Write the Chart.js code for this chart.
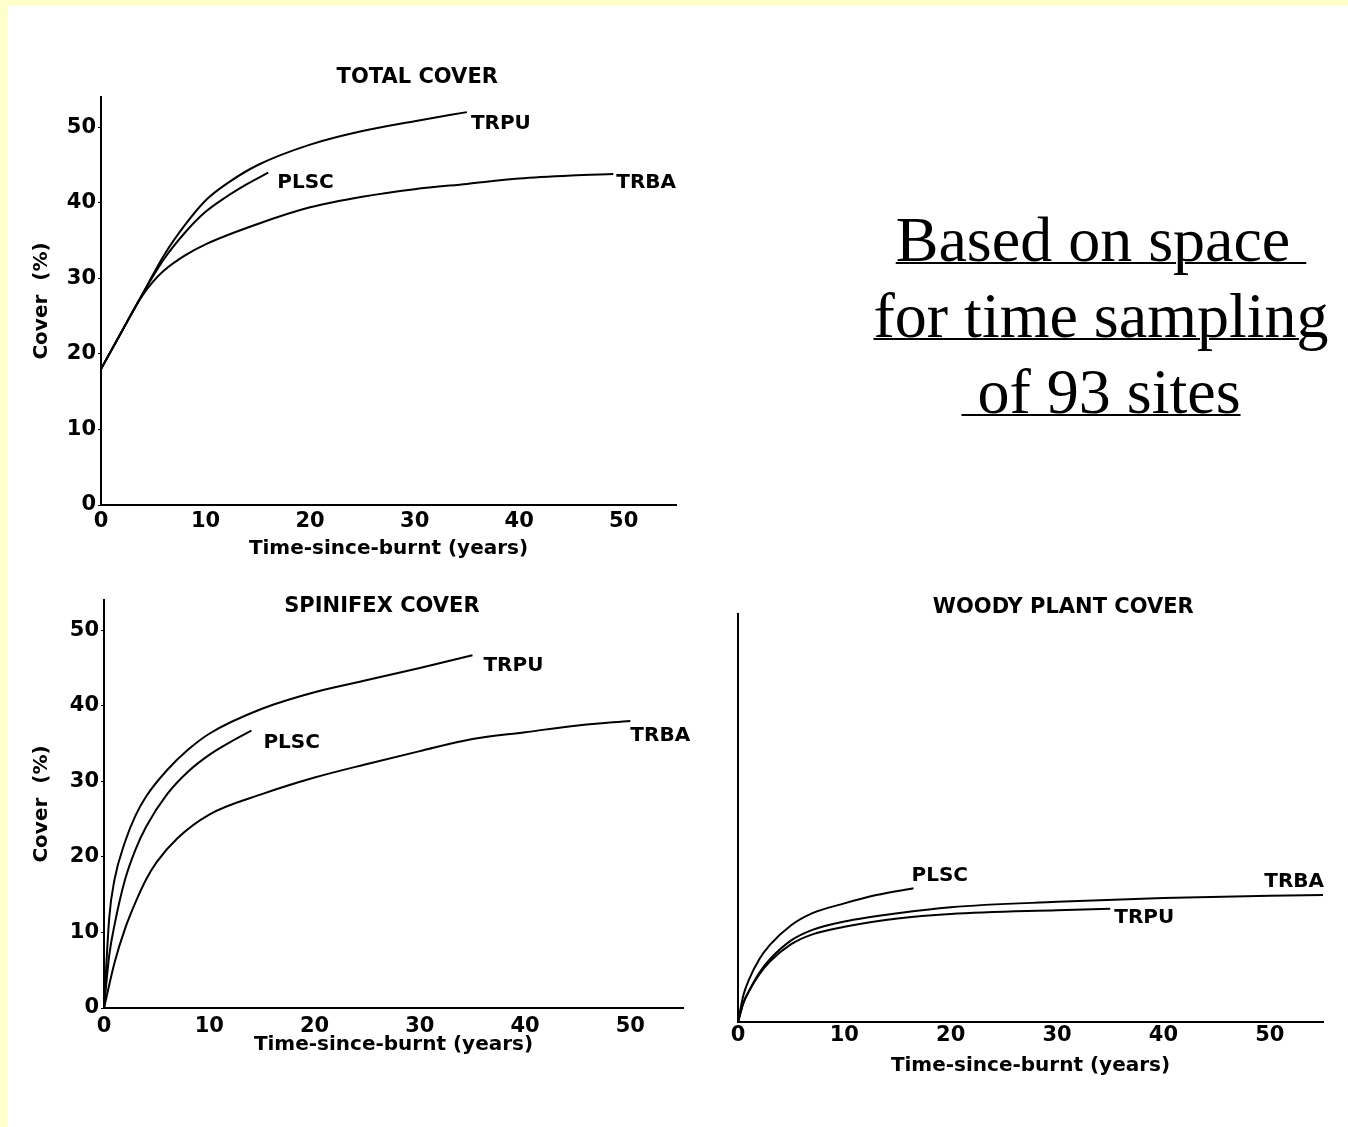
<!DOCTYPE html>
<html>
<head>
<meta charset="utf-8">
<script src="https://cdn.jsdelivr.net/npm/chart.js@4.4.1/dist/chart.umd.min.js"></script>
<style>
  body { margin: 0; background: #FFFFCC; width: 1348px; height: 1127px; overflow: hidden; }
  #page { position: absolute; left: 8px; top: 6px; width: 1340px; height: 1121px; background: #fff; }
  canvas { position: absolute; }
  #note {
    position: absolute; left: 851px; top: 202px; width: 500px;
    font-family: "Liberation Serif", "Times New Roman", serif; font-size: 64px; line-height: 76px;
    text-align: center; white-space: pre; color: #000;
    text-decoration: underline; text-decoration-thickness: 2px;
  }
</style>
</head>
<body>
<div id="page"></div>
<canvas id="totalChart" style="left:10px;top:55px" width="690" height="515"></canvas>
<canvas id="spinChart" style="left:10px;top:580px" width="690" height="495"></canvas>
<canvas id="woodyChart" style="left:700px;top:580px" width="640" height="510"></canvas>
<div id="note">Based on space 
for time sampling
 of 93 sites</div>
<script>
// tick values shown on the panels
var yearTicks = [0, 10, 20, 30, 40, 50];
var coverTicks = [0, 10, 20, 30, 40, 50];

// TOTAL COVER
var totalTrpuX = [0, 2, 4, 6, 8, 10, 12, 15, 20, 25, 30, 35];
var totalTrpuY = [18, 23, 28, 33, 37, 40.3, 42.5, 45, 47.7, 49.5, 50.8, 52];
var totalPlscX = [0, 2, 4, 6, 8, 10, 12, 14, 16];
var totalPlscY = [18, 23, 28, 32.5, 36, 38.8, 40.8, 42.5, 44];
var totalTrbaX = [0, 2, 3, 4, 5, 6, 8, 10, 15, 20, 25, 30, 35, 40, 45, 49];
var totalTrbaY = [18, 23, 25.5, 27.8, 29.6, 31, 33, 34.5, 37.2, 39.4, 40.8, 41.8, 42.5, 43.2, 43.6, 43.8];

// SPINIFEX COVER
var spinTrpuX = [0, 0.5, 1, 2, 3, 4, 6, 8, 10, 15, 20, 25, 30, 35];
var spinTrpuY = [0, 12, 17, 22, 25.5, 28, 31.5, 34.2, 36.3, 39.6, 41.8, 43.4, 45, 46.7];
var spinPlscX = [0, 0.5, 1, 2, 3, 4, 6, 8, 10, 12, 14];
var spinPlscY = [0, 7, 11, 17, 21, 24, 28.3, 31.3, 33.5, 35.2, 36.7];
var spinTrbaX = [0, 1, 2, 3, 4, 5, 7, 10, 15, 20, 25, 30, 35, 40, 45, 50];
var spinTrbaY = [0, 6, 10.5, 14, 17, 19.3, 22.5, 25.6, 28.3, 30.5, 32.3, 34, 35.6, 36.5, 37.4, 38];

// WOODY PLANT COVER
var woodyPlscX = [0, 0.5, 1, 2, 3, 5, 7, 10, 13, 16.5];
var woodyPlscY = [0, 3.5, 5.5, 8.3, 10.2, 12.8, 14.4, 15.7, 16.8, 17.7];
var woodyTrbaX = [0, 0.5, 1, 2, 3, 5, 7, 10, 15, 20, 30, 40, 50, 55];
var woodyTrbaY = [0, 2.5, 4, 6.5, 8.3, 10.8, 12.2, 13.3, 14.4, 15.2, 15.9, 16.4, 16.7, 16.8];
var woodyTrpuX = [0, 0.5, 1, 2, 3, 5, 7, 10, 15, 20, 30, 35];
var woodyTrpuY = [0, 2.5, 4, 6.3, 8, 10.3, 11.6, 12.6, 13.7, 14.3, 14.8, 15];

Chart.defaults.font.family = "'DejaVu Sans', sans-serif";
Chart.defaults.font.weight = 'bold';
Chart.defaults.color = '#000';
Chart.defaults.animation = false;

function pts(xs, ys) {
  var out = [];
  for (var i = 0; i < xs.length; i++) out.push({x: xs[i], y: ys[i]});
  return out;
}

function series(name, xs, ys, dx, dy, align) {
  return {
    label: name,
    data: pts(xs, ys),
    borderColor: '#000',
    borderWidth: 2,
    pointRadius: 0,
    cubicInterpolationMode: 'monotone',
    endLabel: {dx: dx, dy: dy, align: align || 'left'}
  };
}

function fixTicks(list) {
  return function(s) { s.ticks = list.map(function(v) { return {value: v}; }); };
}

// draws panel title and the curve names at the end of each line
var decor = {
  id: 'decor',
  afterDraw: function(chart) {
    var ctx = chart.ctx, area = chart.chartArea;
    var o = chart.options.plugins.decor;
    ctx.save();
    ctx.fillStyle = '#000';
    ctx.textBaseline = 'middle';
    ctx.font = "bold 21px 'DejaVu Sans'";
    ctx.textAlign = 'center';
    ctx.fillText(o.title, area.left + o.titleFrac * (area.right - area.left), area.top + o.titleDy);
    ctx.font = "bold 20px 'DejaVu Sans'";
    chart.data.datasets.forEach(function(ds, i) {
      var meta = chart.getDatasetMeta(i);
      var p = meta.data[meta.data.length - 1];
      ctx.textAlign = ds.endLabel.align;
      ctx.fillText(ds.label, p.x + ds.endLabel.dx, p.y + ds.endLabel.dy);
    });
    ctx.restore();
  }
};

function makePanel(id, datasets, cfg) {
  new Chart(document.getElementById(id), {
    type: 'line',
    data: {datasets: datasets},
    plugins: [decor],
    options: {
      responsive: false,
      layout: {padding: {top: cfg.padTop, right: cfg.padRight, left: 0, bottom: 0}},
      plugins: {
        legend: {display: false},
        tooltip: {enabled: false},
        decor: {title: cfg.title, titleFrac: cfg.titleFrac, titleDy: cfg.titleDy}
      },
      scales: {
        x: {
          type: 'linear', min: 0, max: 55,
          afterBuildTicks: fixTicks(yearTicks),
          afterFit: function(s) { s.height = cfg.xHeight; },
          grid: {display: false, drawTicks: false},
          border: {display: true, color: '#000', width: 2},
          ticks: {font: {size: 21}, padding: cfg.xTickPad, maxRotation: 0},
          title: {display: true, text: 'Time-since-burnt (years)', font: {size: 20},
                  padding: {top: 0, bottom: cfg.xTitlePad}}
        },
        y: {
          min: 0, max: 54,
          afterBuildTicks: fixTicks(coverTicks),
          afterFit: function(s) { s.width = cfg.yWidth; },
          grid: {display: cfg.yLabels, drawOnChartArea: false, tickLength: 3, color: '#000'},
          border: {display: true, color: '#000', width: 2},
          ticks: {display: cfg.yLabels, font: {size: 21}, padding: 2},
          title: {display: cfg.yLabels, text: 'Cover  (%)', font: {size: 20}, padding: {top: 20, bottom: 0}}
        }
      }
    }
  });
}

makePanel('totalChart', [
  series('TRPU', totalTrpuX, totalTrpuY, 4, 12),
  series('PLSC', totalPlscX, totalPlscY, 9, 10),
  series('TRBA', totalTrbaX, totalTrbaY, 3, 9)
], {title: 'TOTAL COVER', titleFrac: 0.55, titleDy: -19, padTop: 42, padRight: 24,
    xHeight: 65, yWidth: 91, xTickPad: 4, xTitlePad: 9, yLabels: true});

makePanel('spinChart', [
  series('TRPU', spinTrpuX, spinTrpuY, 11, 11),
  series('PLSC', spinPlscX, spinPlscY, 12, 12),
  series('TRBA', spinTrbaX, spinTrbaY, 0, 15)
], {title: 'SPINIFEX COVER', titleFrac: 0.48, titleDy: 7, padTop: 20, padRight: 17,
    xHeight: 67, yWidth: 94, xTickPad: 6, xTitlePad: 18, yLabels: true});

makePanel('woodyChart', [
  series('PLSC', woodyPlscX, woodyPlscY, -2, -12),
  series('TRBA', woodyTrbaX, woodyTrbaY, 1, -13, 'right'),
  series('TRPU', woodyTrpuX, woodyTrpuY, 4, 9)
], {title: 'WOODY PLANT COVER', titleFrac: 0.556, titleDy: -6, padTop: 34, padRight: 17,
    xHeight: 68, yWidth: 38, xTickPad: 1, xTitlePad: 12, yLabels: false});
</script>
</body>
</html>
